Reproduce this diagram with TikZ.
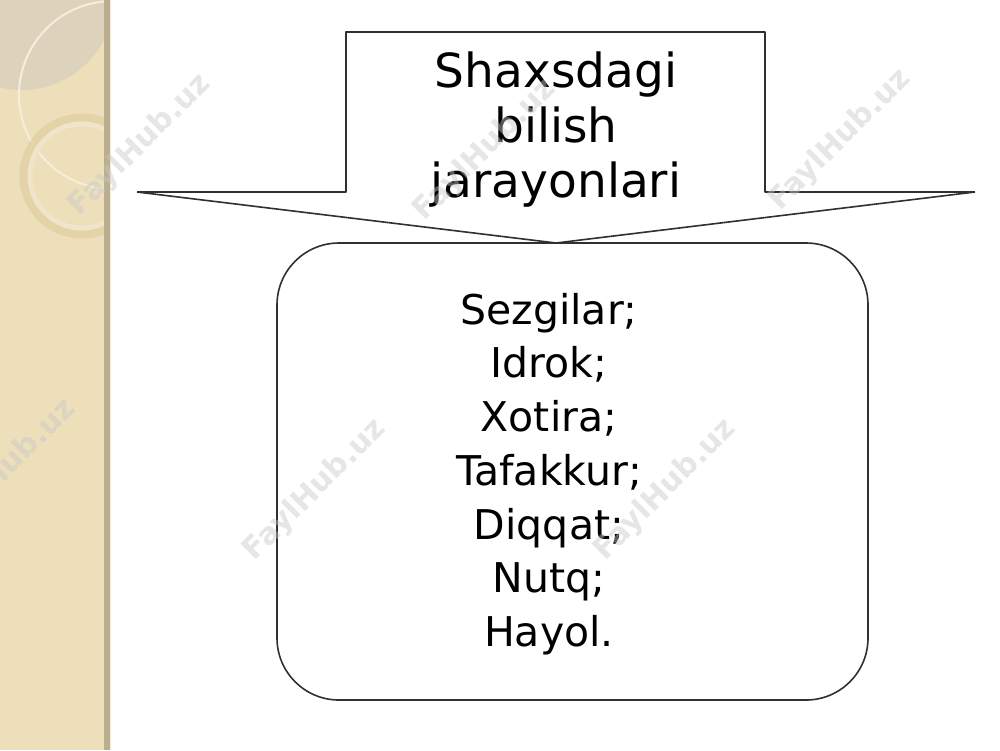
\documentclass[tikz,border=0pt]{standalone}
\usepackage{fontspec}
\setmainfont{DejaVu Sans}
\newfontfamily\wmfont{DejaVu Sans}
\definecolor{beige}{HTML}{ECDFBA}
\definecolor{beigedark}{HTML}{BBAE8E}
\definecolor{beigegray}{HTML}{DDD3BC}
\definecolor{ringlight}{HTML}{F6EEDB}
\definecolor{ringmid}{HTML}{E2D0A2}
\definecolor{linecol}{HTML}{303030}
\definecolor{wmcol}{HTML}{C8C8C8}
\tikzset{
  outline/.style={draw=linecol, line width=1.6pt, line join=round},
  bigtext/.style={font=\fontsize{47}{55}\selectfont, align=center, inner sep=0pt, text=black},
  listtext/.style={font=\fontsize{41}{53.7}\selectfont, align=center, inner sep=0pt, text=black},
  watermark/.style={font=\wmfont\bfseries\fontsize{30}{30}\selectfont, text=wmcol, rotate=45, opacity=0.45}
}
\begin{document}
\begin{tikzpicture}[x=1pt,y=-1pt]
\useasboundingbox (0,0) rectangle (1000,750);
\fill[white] (0,0) rectangle (1000,750);
% left decorative strip
\begin{scope}
  \clip (0,0) rectangle (106,750);
  \fill[beige] (0,0) rectangle (106,750);
  \fill[beigegray] (22,-2) circle[radius=92];
  \draw[ringlight, line width=2pt] (113,95) circle[radius=94];
  \draw[ringmid, line width=13pt, opacity=0.8] (82,176) circle[radius=56];
  \draw[ringlight, line width=5pt, opacity=0.7] (82,176) circle[radius=52];
\end{scope}
\fill[beigedark] (104,0) rectangle (110,750);
\fill[beige!70!white] (110,0) rectangle (111,750);
% callout
\coordinate (lo) at (137,192);
\coordinate (ro) at (975,192);
\coordinate (apex) at (556,243);
\draw[outline] (lo) -- (346,192) -- (346,32) -- (765,32) -- (765,192) -- (ro);
\draw[outline] (lo) -- (apex) -- (ro);
\node[bigtext] (title) at (556,130) {Shaxsdagi\\bilish\\jarayonlari};
% list box
\node[outline, fill=white, rounded corners=62pt, minimum width=591pt, minimum height=457pt, inner sep=0pt] (box) at (572.5,471.5) {};
\node[listtext] (items) at (549,474) {Sezgilar;\\Idrok;\\Xotira;\\Tafakkur;\\Diqqat;\\Nutq;\\Hayol.};
% watermarks
\node[watermark] (wm1) at (140,145) {FaylHub.uz};
\node[watermark] (wm2) at (485,150) {FaylHub.uz};
\node[watermark] (wm3) at (840,140) {FaylHub.uz};
\node[watermark] (wm4) at (5,470) {FaylHub.uz};
\node[watermark] (wm5) at (315,490) {FaylHub.uz};
\node[watermark] (wm6) at (665,490) {FaylHub.uz};
\end{tikzpicture}
\end{document}
